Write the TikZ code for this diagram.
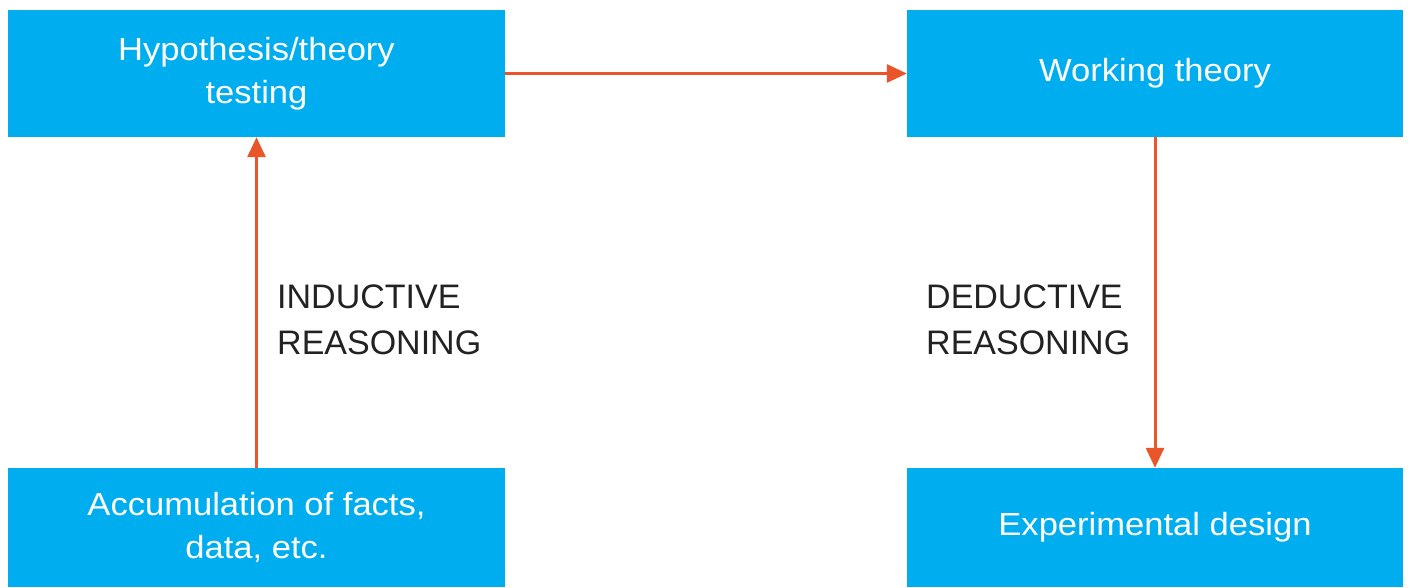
\documentclass[tikz,border=0pt]{standalone}
\usepackage{fontspec}
\setmainfont{Liberation Sans}
\newfontfamily\boxfont[FakeStretch=1.08]{Liberation Sans}
\usetikzlibrary{arrows.meta}
\definecolor{boxblue}{HTML}{00AEEF}
\definecolor{arrorange}{HTML}{E8562A}
\definecolor{labelgray}{HTML}{222222}
\tikzset{
  stagebox/.style={rectangle, fill=boxblue, draw=none, inner sep=0pt,
    text=white, align=center, font=\boxfont\fontsize{32}{43}\selectfont},
  flowarrow/.style={draw=arrorange, line width=3pt,
    -{Triangle[length=20pt,width=18pt]}},
  reasonlabel/.style={anchor=west, inner sep=0pt, align=left, text=labelgray,
    font=\fontsize{34}{46}\selectfont}
}
\begin{document}
\begin{tikzpicture}[x=1pt,y=-1pt]
\useasboundingbox (0,0) rectangle (1410,587);
\node[stagebox, minimum width=497pt, minimum height=127pt] (hyp) at (256.5,73.5) {Hypothesis/theory\\testing};
\node[stagebox, minimum width=496pt, minimum height=127pt] (work) at (1155,73.5) {Working theory};
\node[stagebox, minimum width=497pt, minimum height=119pt] (acc) at (256.5,527.5) {Accumulation of facts,\\data, etc.};
\node[stagebox, minimum width=496pt, minimum height=119pt] (exp) at (1155,527.5) {Experimental design};
\draw[flowarrow] (hyp.east) -- (work.west);
\draw[flowarrow] (acc.north) -- (hyp.south);
\draw[flowarrow] (work.south) -- (exp.north);
\node[reasonlabel] (ind) at (277,320) {INDUCTIVE\\REASONING};
\node[reasonlabel] (ded) at (926,320) {DEDUCTIVE\\REASONING};
\end{tikzpicture}
\end{document}
